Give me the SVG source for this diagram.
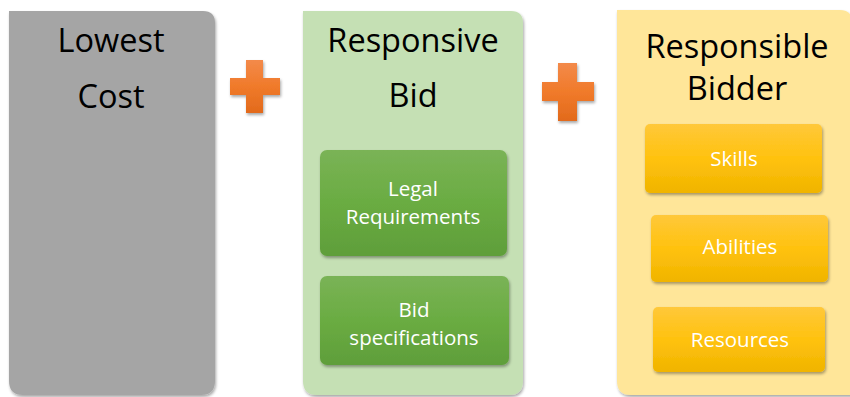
<svg xmlns="http://www.w3.org/2000/svg" width="850" height="397" viewBox="0 0 850 397">
<defs>
  <linearGradient id="gGreen" x1="0" y1="0" x2="0" y2="1">
    <stop offset="0" stop-color="#7ab356"/>
    <stop offset="0.5" stop-color="#6aac42"/>
    <stop offset="1" stop-color="#5f9e3a"/>
  </linearGradient>
  <linearGradient id="gGold" x1="0" y1="0" x2="0" y2="1">
    <stop offset="0" stop-color="#ffc83a"/>
    <stop offset="0.5" stop-color="#ffc20e"/>
    <stop offset="1" stop-color="#f0b400"/>
  </linearGradient>
  <linearGradient id="gOrange" x1="0" y1="0" x2="0" y2="1">
    <stop offset="0" stop-color="#f38a4a"/>
    <stop offset="0.5" stop-color="#f07a2a"/>
    <stop offset="1" stop-color="#e26a1c"/>
  </linearGradient>
  <filter id="sh" x="-10%" y="-10%" width="125%" height="125%">
    <feGaussianBlur in="SourceAlpha" stdDeviation="1.5"/>
    <feOffset dx="1" dy="2" result="o"/>
    <feComponentTransfer><feFuncA type="linear" slope="0.35"/></feComponentTransfer>
    <feMerge><feMergeNode/><feMergeNode in="SourceGraphic"/></feMerge>
  </filter>
</defs>
<style>
  .big { font-family: "Open Sans", "Liberation Sans", sans-serif; font-size: 32.5px; fill: #000; text-anchor: middle; }
  .small { font-family: "Open Sans", "Liberation Sans", sans-serif; font-size: 20.5px; fill: #fff; text-anchor: middle; }
  .gbox { fill: url(#gGreen); filter: url(#sh); }
  .ybox { fill: url(#gGold); filter: url(#sh); }
  .plus { fill: url(#gOrange); filter: url(#sh); }
</style>

<g id="lowest-cost">
  <path d="M9,11 H203 Q215,11 215,23 V381 Q215,395 201,395 H23 Q9,395 9,381 Z" fill="#a5a5a5" filter="url(#sh)"/>
  <text class="big" x="111" y="52">Lowest</text>
  <text class="big" x="111" y="108">Cost</text>
</g>

<g id="plus-1">
  <path class="plus" d="M246,60 H263 V78 H280 V95 H263 V113 H246 V95 H230 V78 H246 Z"/>
</g>

<g id="responsive-bid">
  <path d="M303,11 H511 Q523,11 523,23 V381 Q523,395 509,395 H317 Q303,395 303,381 Z" fill="#c5e0b4" filter="url(#sh)"/>
  <text class="big" x="413" y="52">Responsive</text>
  <text class="big" x="413" y="107">Bid</text>
  <g id="legal-requirements">
    <rect class="gbox" x="320" y="150" width="187" height="106" rx="7"/>
    <text class="small" x="413" y="196">Legal</text>
    <text class="small" x="413" y="224">Requirements</text>
  </g>
  <g id="bid-specifications">
    <rect class="gbox" x="320" y="276" width="189" height="89" rx="7"/>
    <text class="small" x="414" y="317">Bid</text>
    <text class="small" x="414" y="345">specifications</text>
  </g>
</g>

<g id="plus-2">
  <path class="plus" d="M558,63 H577 V82 H594 V101 H577 V121 H558 V101 H542 V82 H558 Z"/>
</g>

<g id="responsible-bidder">
  <path d="M617,10 H840 Q852,10 852,22 V395 H631 Q617,395 617,381 Z" fill="#ffe699" filter="url(#sh)"/>
  <text class="big" x="737" y="58">Responsible</text>
  <text class="big" x="737" y="100">Bidder</text>
  <g id="skills">
    <rect class="ybox" x="645" y="124" width="177" height="69" rx="5"/>
    <text class="small" x="734" y="166">Skills</text>
  </g>
  <g id="abilities">
    <rect class="ybox" x="651" y="215" width="177" height="67" rx="5"/>
    <text class="small" x="740" y="254">Abilities</text>
  </g>
  <g id="resources">
    <rect class="ybox" x="653" y="307" width="172" height="65" rx="5"/>
    <text class="small" x="740" y="347">Resources</text>
  </g>
</g>

<g id="connectors"></g>
</svg>
